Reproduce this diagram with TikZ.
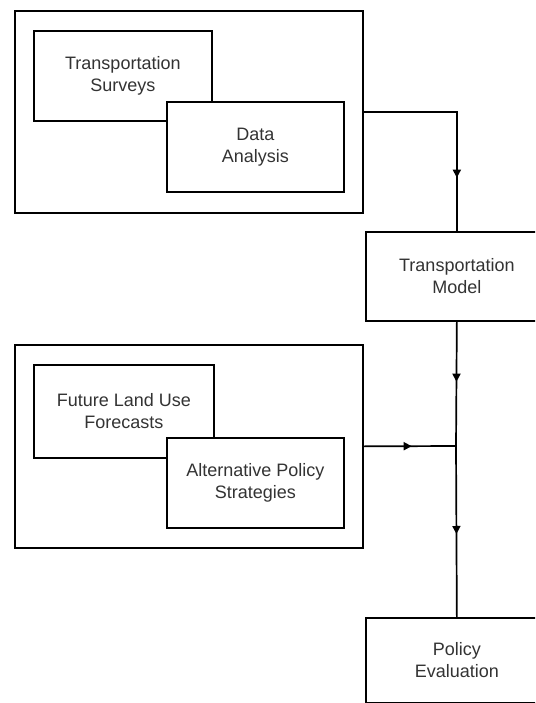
\documentclass[tikz,border=0pt]{standalone}
\usepackage{fontspec}
\setmainfont{Liberation Sans}
\usetikzlibrary{arrows.meta, positioning, decorations.markings}

\begin{document}
\begin{tikzpicture}[
    x=1pt, y=-1pt,
    every node/.style={font=\fontsize{18}{22}\selectfont, text=black!80},
    group/.style={rectangle, draw, line width=1.7pt, anchor=north west, inner sep=0pt},
    block/.style={rectangle, draw, fill=white, line width=1.7pt, align=center,
                  anchor=north west, inner sep=0pt},
    line/.style={line width=1.7pt},
    tipat/.style={postaction={decorate}, decoration={markings,
                  mark=at position #1 with {\arrow{Triangle[length=8pt, width=8pt]}}}},
]

\useasboundingbox (0,0) rectangle (535,703);
\clip (0,0) rectangle (535,703);

% Top group: surveys and analysis
\node[group, minimum width=348pt, minimum height=202pt] (obs) at (14,10) {};
\node[block, minimum width=178pt, minimum height=90pt] (surveys) at (33,30) {Transportation\\Surveys};
\node[block, minimum width=177pt, minimum height=90pt] (analysis) at (166,101) {Data\\Analysis};

% Middle: model
\node[block, minimum width=182pt, minimum height=89pt] (model) at (365,231) {Transportation\\Model};

% Lower group: land use and policies
\node[group, minimum width=348pt, minimum height=203pt] (plans) at (14,344) {};
\node[block, minimum width=180pt, minimum height=93pt] (landuse) at (33,364) {Future Land Use\\Forecasts};
\node[block, minimum width=177pt, minimum height=90pt] (policy) at (166,437) {Alternative Policy\\Strategies};

% Bottom: evaluation
\node[block, minimum width=182pt, minimum height=85pt] (eval) at (365,617) {Policy\\Evaluation};

\coordinate (junct) at (456,446);

% Connectors
\draw[line, tipat=159pt] (obs.east) -| (model.north);
\draw[line, tipat=60pt] (model.south) -- (junct);
\draw[line, tipat=48pt] (plans.east) -- (junct);
\draw[line, tipat=88pt] (junct) -- (eval.north);

\end{tikzpicture}
\end{document}
